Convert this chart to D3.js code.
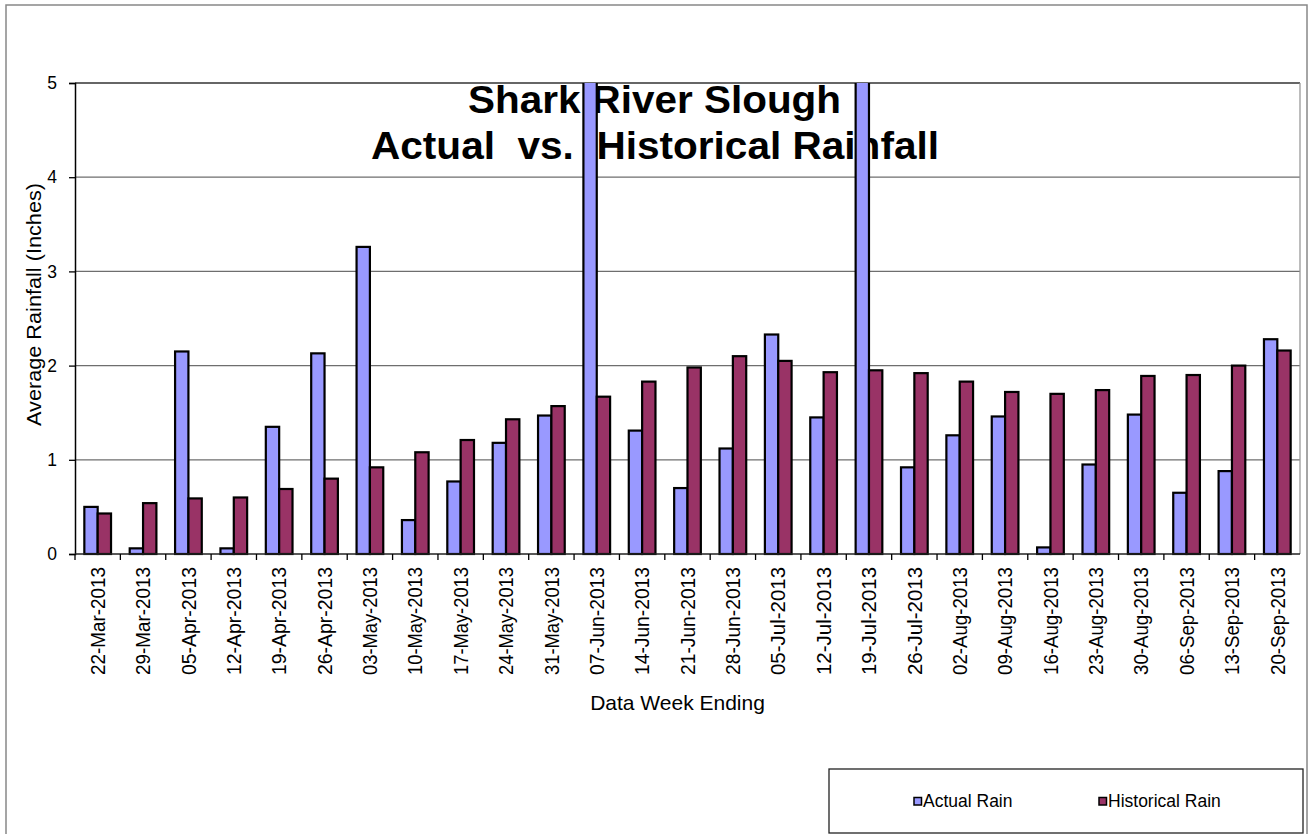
<!DOCTYPE html>
<html>
<head>
<meta charset="utf-8">
<script src="https://cdn.jsdelivr.net/npm/d3@7"></script>
<style>
    body { margin: 0; background: #fff; }
    svg { display: block; font-family: "Liberation Sans", Arial, sans-serif; }
</style>
</head>
<body>
<svg id="chart" width="1310" height="834"></svg>
<script>
'use strict';

let weeks = ['22-Mar-2013', '29-Mar-2013', '05-Apr-2013', '12-Apr-2013', '19-Apr-2013', '26-Apr-2013',
    '03-May-2013', '10-May-2013', '17-May-2013', '24-May-2013', '31-May-2013', '07-Jun-2013',
    '14-Jun-2013', '21-Jun-2013', '28-Jun-2013', '05-Jul-2013', '12-Jul-2013', '19-Jul-2013',
    '26-Jul-2013', '02-Aug-2013', '09-Aug-2013', '16-Aug-2013', '23-Aug-2013', '30-Aug-2013',
    '06-Sep-2013', '13-Sep-2013', '20-Sep-2013'];

// values above 5 are cut off by the axis in the original
let actualRain = [0.50, 0.06, 2.15, 0.06, 1.35, 2.13, 3.26, 0.36, 0.77, 1.18, 1.47, 5.6,
    1.31, 0.70, 1.12, 2.33, 1.45, 5.8, 0.92, 1.26, 1.46, 0.07, 0.95, 1.48, 0.65, 0.88, 2.28];
let historicalRain = [0.43, 0.54, 0.59, 0.60, 0.69, 0.80, 0.92, 1.08, 1.21, 1.43, 1.57, 1.67,
    1.83, 1.98, 2.10, 2.05, 1.93, 1.95, 1.92, 1.83, 1.72, 1.70, 1.74, 1.89, 1.90, 2.00, 2.16];

let seriesNames = ['Actual Rain', 'Historical Rain'];
let seriesColors = ['#9999ff', '#993366'];
let yTicks = [0, 1, 2, 3, 4, 5];
let titleLines = ['Shark River Slough', 'Actual  vs.  Historical Rainfall'];

let rows = weeks.map((w, i) => ({week: w, values: [actualRain[i], historicalRain[i]]}));

let svg = d3.select("#chart"),
    margin = {top: 83, left: 75, right: 10},
    width = +svg.attr("width"),
    plotBottom = 554,
    plotRight = width - margin.right;

// outer chart frame
svg.append("rect")
    .attr("x", 6).attr("y", 5)
    .attr("width", 1301).attr("height", 860)
    .attr("fill", "#fff")
    .attr("stroke", "#888")
    .attr("stroke-width", 1.5);

let x = d3.scaleBand()
    .domain(weeks)
    .range([margin.left, plotRight])
    .padding(0);

let x1 = d3.scaleBand()
    .domain(d3.range(seriesNames.length))
    .range([0, x.bandwidth()])
    .paddingInner(0)
    .paddingOuter(0.7);

let y = d3.scaleLinear()
    .domain([0, 5])
    .range([plotBottom, margin.top]);

// gridlines
svg.append("g")
    .selectAll("line")
    .data(yTicks.filter(t => t > 0))
    .enter().append("line")
    .attr("x1", margin.left).attr("x2", plotRight)
    .attr("y1", d => y(d)).attr("y2", d => y(d))
    .attr("stroke", d => d === 5 ? "#333" : "#6e6e6e")
    .attr("stroke-width", 1.3);

// right side of plot area
svg.append("line")
    .attr("x1", plotRight).attr("x2", plotRight)
    .attr("y1", margin.top).attr("y2", plotBottom)
    .attr("stroke", "#999")
    .attr("stroke-width", 1.3);

// title sits behind the bars
let title = svg.append("g")
    .attr("font-weight", "bold")
    .attr("font-size", 38)
    .attr("text-anchor", "middle");
title.append("text")
    .attr("x", 654.5).attr("y", 112.5)
    .attr("textLength", 373).attr("lengthAdjust", "spacingAndGlyphs")
    .text(titleLines[0]);
title.append("text")
    .attr("x", 655).attr("y", 159)
    .attr("textLength", 568).attr("lengthAdjust", "spacingAndGlyphs")
    .attr("xml:space", "preserve")
    .style("white-space", "pre")
    .text(titleLines[1]);

svg.append("clipPath")
    .attr("id", "plotClip")
    .append("rect")
    .attr("x", margin.left - 2).attr("y", margin.top)
    .attr("width", plotRight - margin.left + 4)
    .attr("height", plotBottom - margin.top + 2);

let groups = svg.append("g")
    .attr("clip-path", "url(#plotClip)")
    .selectAll("g")
    .data(rows)
    .enter().append("g")
    .attr("transform", d => "translate(" + x(d.week) + ",0)");

groups.selectAll("rect")
    .data(d => d.values.map((v, k) => ({k: k, v: v})))
    .enter().append("rect")
    .attr("x", d => x1(d.k))
    .attr("y", d => y(d.v))
    .attr("width", x1.bandwidth())
    .attr("height", d => plotBottom - y(d.v))
    .attr("fill", d => seriesColors[d.k])
    .attr("stroke", "#000")
    .attr("stroke-width", 2.2);

// y axis
let yAxis = svg.append("g")
    .attr("transform", "translate(" + margin.left + ",0)")
    .call(d3.axisLeft(y).tickValues(yTicks).tickSize(6).tickPadding(12).tickFormat(d3.format("d")));
yAxis.select(".domain").attr("stroke", "#000").attr("stroke-width", 1.5);
yAxis.selectAll(".tick line").attr("stroke", "#000").attr("stroke-width", 1.3);
yAxis.selectAll("text")
    .attr("font-family", "Liberation Sans, Arial, sans-serif")
    .attr("font-size", 17.5)
    .attr("fill", "#000");

// x axis line and ticks at category boundaries
svg.append("line")
    .attr("x1", margin.left).attr("x2", plotRight)
    .attr("y1", plotBottom).attr("y2", plotBottom)
    .attr("stroke", "#222").attr("stroke-width", 1.5);

svg.append("g")
    .selectAll("line")
    .data(weeks)
    .enter().append("line")
    .attr("x1", d => x(d)).attr("x2", d => x(d))
    .attr("y1", plotBottom).attr("y2", plotBottom + 6)
    .attr("stroke", "#000").attr("stroke-width", 1.3);

svg.append("g")
    .selectAll("text")
    .data(weeks)
    .enter().append("text")
    .attr("transform", d => "translate(" + (x(d) + x.bandwidth() / 2) + "," + (plotBottom + 13) + ") rotate(-90)")
    .attr("dy", "0.36em")
    .attr("text-anchor", "end")
    .attr("font-size", 20)
    .attr("textLength", 108)
    .attr("lengthAdjust", "spacingAndGlyphs")
    .text(d => d);

// axis titles
svg.append("text")
    .attr("transform", "translate(33,304.5) rotate(-90)")
    .attr("dy", "0.36em")
    .attr("text-anchor", "middle")
    .attr("font-size", 21)
    .attr("textLength", 243)
    .attr("lengthAdjust", "spacingAndGlyphs")
    .text("Average Rainfall (Inches)");

svg.append("text")
    .attr("x", 677.5).attr("y", 710)
    .attr("text-anchor", "middle")
    .attr("font-size", 21)
    .text("Data Week Ending");

// legend
let legend = svg.append("g");
legend.append("rect")
    .attr("x", 829).attr("y", 769)
    .attr("width", 474).attr("height", 64)
    .attr("fill", "#fff")
    .attr("stroke", "#222").attr("stroke-width", 1.3);

let legendX = [914, 1099];
let items = legend.selectAll("g.item")
    .data(seriesNames)
    .enter().append("g")
    .attr("class", "item")
    .attr("transform", (d, i) => "translate(" + legendX[i] + ",797.5)");
items.append("rect")
    .attr("width", 7.5).attr("height", 7.5)
    .attr("fill", (d, i) => seriesColors[i])
    .attr("stroke", "#000").attr("stroke-width", 1.5);
items.append("text")
    .attr("x", 9).attr("y", 9.5)
    .attr("font-size", 17.5)
    .text(d => d);
</script>
</body>
</html>
